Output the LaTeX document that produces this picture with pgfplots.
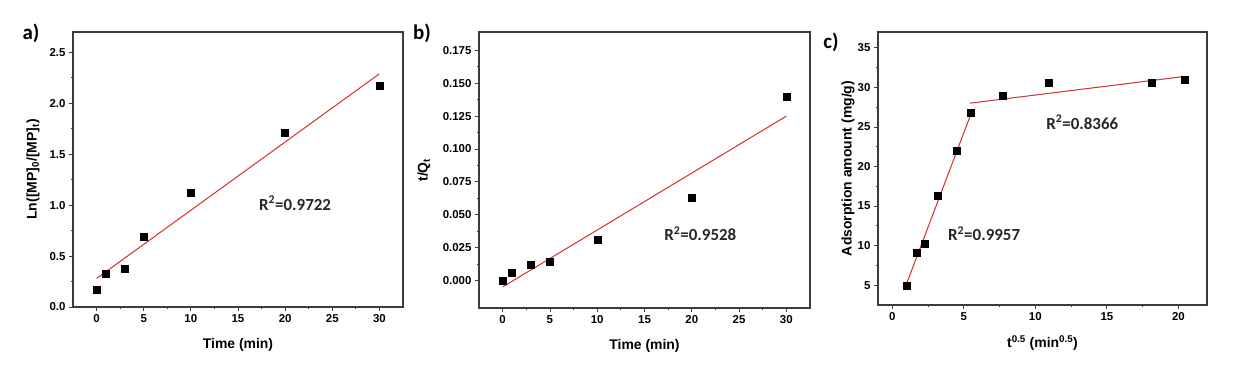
\documentclass[border=0pt]{standalone}
\usepackage{fontspec}
\setmainfont{Liberation Sans}
\newfontfamily\calibri{Carlito}
\usepackage{pgfplots}
\pgfplotsset{compat=1.18}
\definecolor{fitred}{RGB}{214,45,45}
\definecolor{axgray}{RGB}{60,60,60}
\pgfplotsset{
 panel/.style={
  scale only axis, anchor=south west,
  axis line style={draw=axgray, line width=1.3bp},
  tick style={draw=axgray, line width=0.8bp},
  tick align=outside, xtick pos=bottom, ytick pos=left,
  major tick length=4bp, minor tick length=2.2bp,
  minor x tick num=1, minor y tick num=1,
  tick label style={font=\fontsize{11.5}{11.5}\selectfont\bfseries},
  /pgf/number format/assume math mode=true,
  label style={font=\fontsize{14}{14}\selectfont\bfseries},
  scaled ticks=false,
 },
 pts/.style={only marks, mark=square*, mark size=3.5bp, mark options={fill=black, draw=black}},
 fit/.style={fitred, line width=1bp, no marks},
}
\tikzset{rsq/.style={font=\calibri\fontsize{17}{17}\selectfont\bfseries, text=black!85}}
\begin{document}
\begin{tikzpicture}
\path[use as bounding box] (0bp,0bp) rectangle (1242bp,375bp);

% ---------- a ----------
\begin{axis}[panel, at={(73bp,68bp)}, width=330bp, height=275bp,
  xmin=-2.5, xmax=32.5, ymin=0, ymax=2.7,
  xtick={0,5,10,15,20,25,30}, ytick={0,0.5,1,1.5,2,2.5},
  yticklabel style={/pgf/number format/.cd, fixed, fixed zerofill, precision=1},
  xlabel={Time (min)}, ylabel={Ln([MP]\textsubscript{0}/[MP]\textsubscript{t})},
  xlabel style={at={([yshift=-38bp]axis description cs:0.5,0)}, anchor=center},
  ylabel style={at={([xshift=-40bp]axis description cs:0,0.5)}, anchor=center},
]
\addplot[fit] coordinates {(0,0.28) (30,2.29)};
\addplot[pts] coordinates {(0,0.17) (1,0.33) (3,0.38) (5,0.69) (10,1.12) (20,1.71) (30,2.17)};
\node[rsq] at (axis cs:21.05,1.02) {R\textsuperscript{2}=0.9722};
\end{axis}

% ---------- b ----------
\begin{axis}[panel, at={(479bp,67bp)}, width=331bp, height=276bp,
  xmin=-2.5, xmax=32.5, ymin=-0.021, ymax=0.189,
  xtick={0,5,10,15,20,25,30}, ytick={0,0.025,0.05,0.075,0.1,0.125,0.15,0.175},
  yticklabel style={/pgf/number format/.cd, fixed, fixed zerofill, precision=3},
  xlabel={Time (min)}, ylabel={t/Q\textsubscript{t}},
  xlabel style={at={([yshift=-38bp]axis description cs:0.5,0)}, anchor=center},
  ylabel style={at={([xshift=-55bp]axis description cs:0,0.5)}, anchor=center},
]
\addplot[fit] coordinates {(0,-0.005) (30,0.125)};
\addplot[pts] coordinates {(0,0.000) (1,0.006) (3,0.012) (5,0.014) (10,0.031) (20,0.063) (30,0.140)};
\node[rsq] at (axis cs:20.9,0.0358) {R\textsuperscript{2}=0.9528};
\end{axis}

% ---------- c ----------
\begin{axis}[panel, at={(878bp,70bp)}, width=329bp, height=273bp,
  xmin=-1, xmax=22, ymin=2.5, ymax=37,
  xtick={0,5,10,15,20}, ytick={5,10,15,20,25,30,35},
  xlabel={t\textsuperscript{0.5} (min\textsuperscript{0.5})}, ylabel={Adsorption amount (mg/g)},
  xlabel style={at={([yshift=-38bp]axis description cs:0.5,0)}, anchor=center},
  ylabel style={at={([xshift=-30bp]axis description cs:0,0.5)}, anchor=center},
]
\addplot[fit] coordinates {(1.0,5.2) (5.47,26.5)};
\addplot[fit] coordinates {(5.4,28.0) (20.5,31.4)};
\addplot[pts] coordinates {(1.0,5.0) (1.73,9.15) (2.24,10.28) (3.16,16.27) (4.47,21.97) (5.48,26.74) (7.72,28.92) (10.93,30.64) (18.12,30.64) (20.45,30.98)};
\node[rsq] at (axis cs:13.28,25.6) {R\textsuperscript{2}=0.8366};
\node[rsq] at (axis cs:6.42,11.5) {R\textsuperscript{2}=0.9957};
\end{axis}

\node[font=\calibri\fontsize{21}{21}\selectfont\bfseries] at (31bp,342bp) {a)};
\node[font=\calibri\fontsize{21}{21}\selectfont\bfseries] at (422bp,342bp) {b)};
\node[font=\calibri\fontsize{21}{21}\selectfont\bfseries] at (831bp,333bp) {c)};
\end{tikzpicture}
\end{document}
